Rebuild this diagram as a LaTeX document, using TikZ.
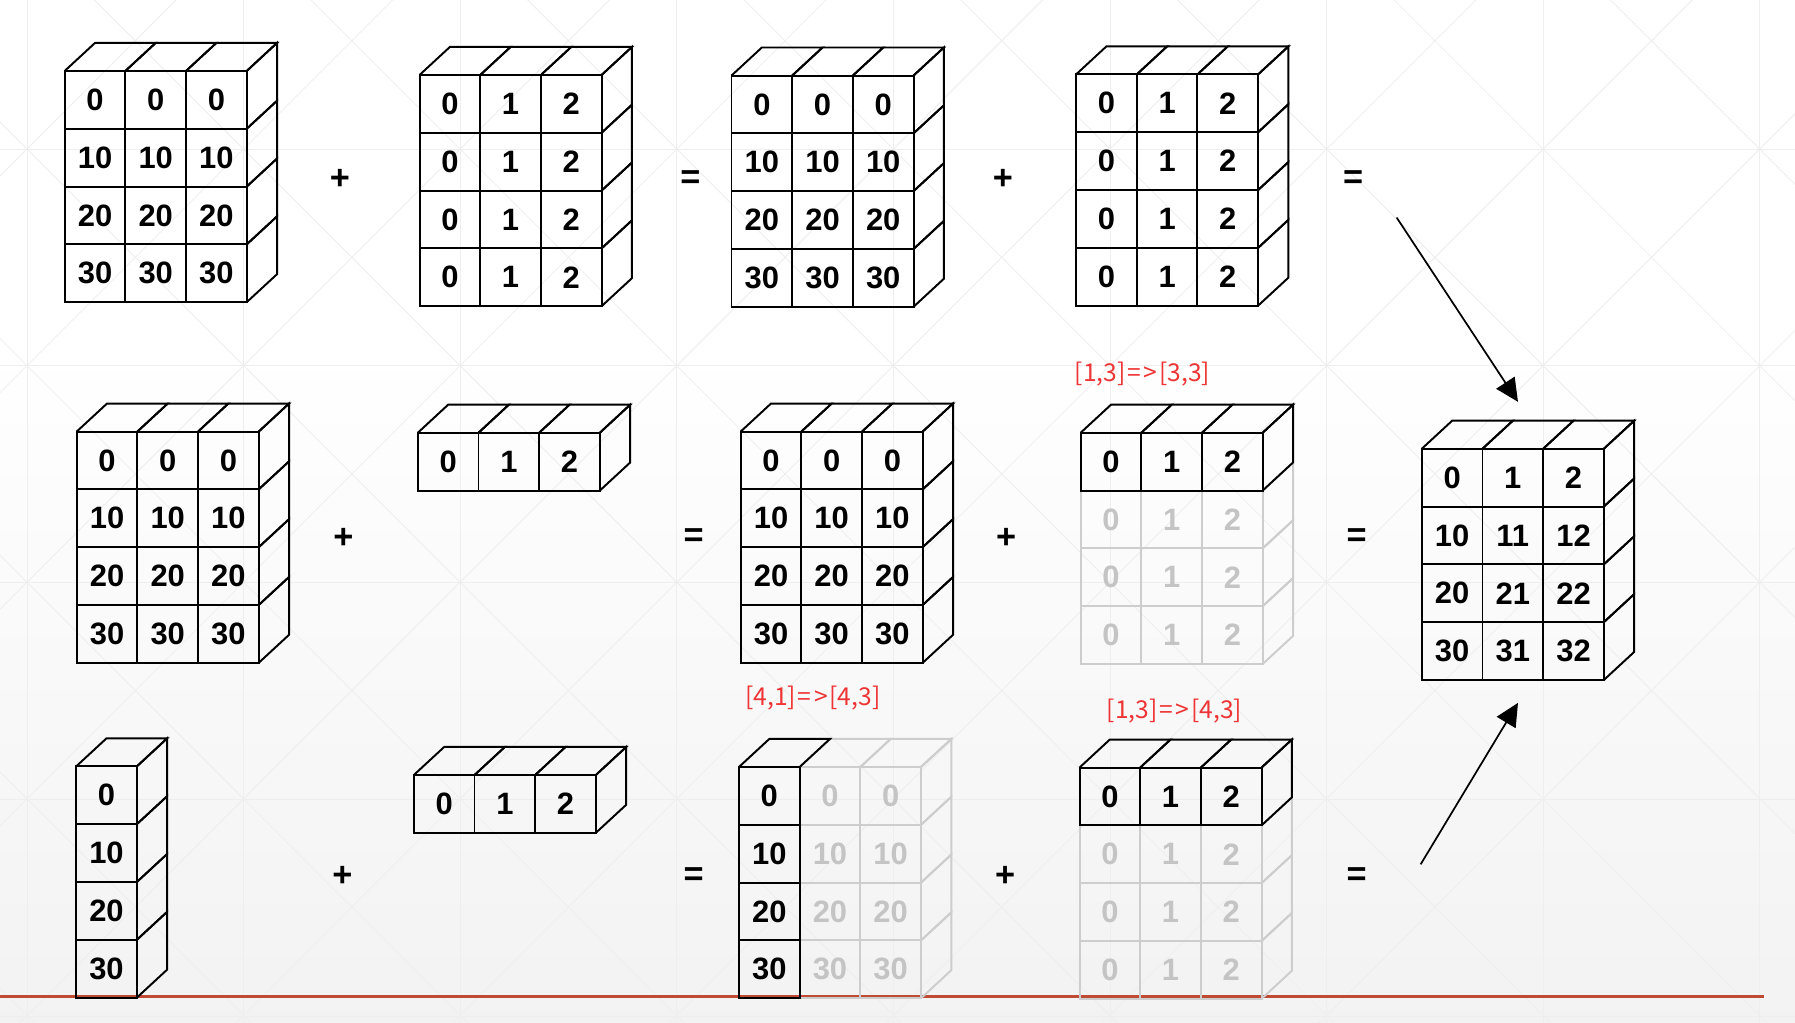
\documentclass[tikz,border=0pt]{standalone}
\usepackage{fontspec}
\usetikzlibrary{arrows.meta}
\newfontfamily\arialf{Liberation Sans}
\newfontfamily\cjkf{Noto Sans CJK SC}
\definecolor{redlab}{RGB}{238,52,52}
\definecolor{ghostline}{RGB}{205,205,205}
\definecolor{ghosttext}{RGB}{196,196,196}
\definecolor{rule}{RGB}{190,75,50}
\definecolor{bggrid}{RGB}{238,238,238}
\def\cw{53}
\def\ch{50.5}
\def\dxx{26.5}
\def\dyy{24.5}
\tikzset{
  cell/.style={rectangle,minimum width=\cw pt,minimum height=\ch pt,inner sep=0pt,line width=1.7pt,
    font=\arialf\bfseries\fontsize{27}{27}\selectfont},
  face/.style={line width=1.7pt,line join=miter},
  oper/.style={font=\arialf\bfseries\fontsize{30}{30}\selectfont,inner sep=0pt},
  shapelab/.style={font=\cjkf\fontsize{21.5}{21.5}\selectfont,text=redlab,inner sep=0pt},
  arr/.style={line width=1.5pt,-{Triangle[length=20pt,width=19pt]}}
}
\newcommand\redlab[2]{[#1]\kern1.5pt=\kern2.5pt>\kern1.5pt[#2]}
\pgfkeys{/cube/.is family,/cube/.cd,
  x/.store in=\cbx, y/.store in=\cby, cols/.store in=\cbn,
  c1/.store in=\cbca, c2/.store in=\cbcb, r1/.store in=\cbra, r2/.store in=\cbrb,
  rm/.store in=\cbrm, cm/.store in=\cbcm, ln/.store in=\cbln, tx/.store in=\cbtx,
  name/.store in=\cbname}
\newcommand\cubepart[1]{%
  \pgfkeys{/cube/.cd,x=0,y=0,cols=3,c1=1,c2=3,r1=1,r2=4,rm=0,cm=0,ln=black,tx=black,name=q,#1}%
  \foreach \c in {\cbca,...,\cbcb}{%
    \foreach \r in {\cbra,...,\cbrb}{%
      \pgfmathtruncatemacro\v{\cbrm*(\r-1)+\cbcm*(\c-1)}%
      \node[cell,draw=\cbln,text=\cbtx] (\cbname-\r-\c) at ({\cbx+(\c-0.5)*\cw},{\cby+(\r-0.5)*\ch}) {\v};
    }}%
  \ifnum\cbra=1\relax
    \foreach \c in {\cbca,...,\cbcb}{%
      \draw[face,draw=\cbln] ({\cbx+(\c-1)*\cw},\cby) -- ++(\dxx,-\dyy) -- ++(\cw,0) -- ++(-\dxx,\dyy);}%
  \fi
  \ifnum\cbcb=\cbn\relax
    \foreach \r in {\cbra,...,\cbrb}{%
      \draw[face,draw=\cbln] ({\cbx+\cbn*\cw},{\cby+(\r-1)*\ch}) -- ++(\dxx,-\dyy) -- ++(0,\ch) -- ++(-\dxx,\dyy);}%
  \fi}
\begin{document}
\begin{tikzpicture}[x=1pt,y=-1pt]
\useasboundingbox (0,0) rectangle (1568,893.6);
% background
\fill[white] (0,0) rectangle (1568,893.6);
\shade[top color=white,bottom color=black!5] (0,300) rectangle (1568,893.6);
\begin{scope}
\clip (0,0) rectangle (1568,893.6);
\foreach \i in {0,...,8} \draw[bggrid,line width=0.7pt] ({23.6+189.2*\i},0) -- ++(0,893.6);
\foreach \j in {0,...,4} \draw[bggrid,line width=0.7pt] (0,{130.2+189.4*\j}) -- ++(1568,0);
\foreach \k in {-6,...,10} {
  \draw[bggrid,line width=0.7pt] ({23.6+189.2*\k-1000},{130.2-1000}) -- ++(2000,2000);
  \draw[bggrid,line width=0.7pt] ({23.6+189.2*\k-1000},{130.2+1000}) -- ++(2000,-2000);
}
\end{scope}
\draw[rule,line width=2pt] (0,870.5) -- (1541,870.5);
% row 1
\cubepart{name=a,x=56.5,y=62,rm=10}
\cubepart{name=b,x=366.5,y=65.5,cm=1}
\cubepart{name=c,x=639,y=66,rm=10}
\cubepart{name=d,x=940,y=65,cm=1}
\node[oper] (p1) at (297,157) {+};
\node[oper] (e1) at (603,157) {=};
\node[oper] (p2) at (876,157) {+};
\node[oper] (e2) at (1182,157) {=};
% row 2
\cubepart{name=f,x=67,y=377,rm=10}
\cubepart{name=g,x=365,y=378,r2=1,cm=1}
\cubepart{name=h,x=647,y=377,rm=10}
\cubepart{name=i,x=944,y=378,r1=2,cm=1,ln=ghostline,tx=ghosttext}
\cubepart{name=i,x=944,y=378,r2=1,cm=1}
\cubepart{name=res,x=1242,y=392,rm=10,cm=1}
\node[oper] (p3) at (300,470) {+};
\node[oper] (e3) at (606,470) {=};
\node[oper] (p4) at (879,470) {+};
\node[oper] (e4) at (1185,470) {=};
\node[shapelab] (l1) at (998,327) {\redlab{1,3}{3,3}};
% row 3
\cubepart{name=j,x=66.5,y=669.5,cols=1,c2=1,rm=10}
\cubepart{name=k,x=361.5,y=677,r2=1,cm=1}
\cubepart{name=m,x=645.5,y=670,c1=2,rm=10,ln=ghostline,tx=ghosttext}
\cubepart{name=m,x=645.5,y=670,c2=1,rm=10}
\cubepart{name=n,x=943,y=670.5,r1=2,cm=1,ln=ghostline,tx=ghosttext}
\cubepart{name=n,x=943,y=670.5,r2=1,cm=1}
\node[oper] (p5) at (299,766) {+};
\node[oper] (e5) at (606,766) {=};
\node[oper] (p6) at (878,766) {+};
\node[oper] (e6) at (1185,766) {=};
\node[shapelab] (l2) at (710,610) {\redlab{4,1}{4,3}};
\node[shapelab] (l3) at (1026,621) {\redlab{1,3}{4,3}};
% arrows
\coordinate (s1) at (1220,190);
\coordinate (t1) at (1326,351);
\coordinate (s2) at (1241,755);
\coordinate (t2) at (1326,614);
\draw[arr] (s1) -- (t1);
\draw[arr] (s2) -- (t2);
\end{tikzpicture}
\end{document}
